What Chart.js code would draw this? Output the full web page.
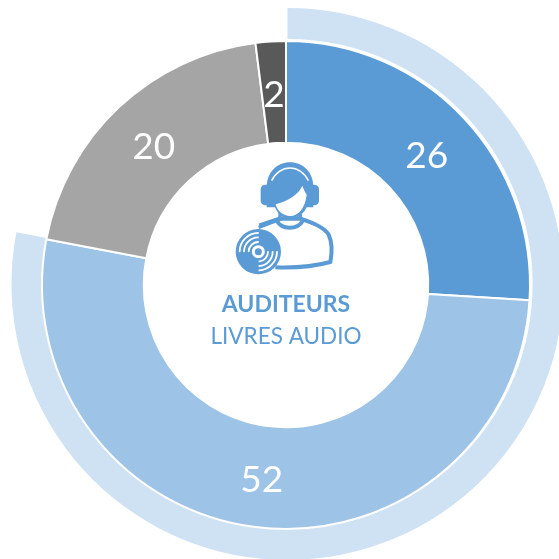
<!DOCTYPE html>
<html><head><meta charset="utf-8">
<style>
html,body{margin:0;padding:0;background:#fff;overflow:hidden;width:559px;height:559px}
.w{position:absolute}
canvas{display:block}
svg{position:absolute;left:200px;top:150px}
</style>
<script src="https://cdn.jsdelivr.net/npm/chart.js@4"></script>
</head><body>
<div class="w" style="left:0;top:0"><canvas id="outer" width="575" height="568"></canvas></div>
<div class="w" style="left:0;top:0"><canvas id="inner" width="572" height="570"></canvas></div>
<svg width="170" height="210" viewBox="0 0 510 630">
  <path d="M178 226L238 206L300 206C340 218 372 232 386 254C396 276 396 310 391 336C340 350 280 354 226 352" fill="#fff" stroke="#5B9BD5" stroke-width="12" stroke-linejoin="round"/>
  <path d="M231 213C246 240 292 240 308 213" fill="none" stroke="#5B9BD5" stroke-width="12"/>
  <path d="M240 186L240 208L176 232M300 186L302 206L345 222" fill="none" stroke="#5B9BD5" stroke-width="10"/>
  <g fill="#5B9BD5">
    <path d="M200 112C200 66 232 37 270 37C308 37 340 66 340 112L340 172L200 172Z"/>
    <rect x="182" y="104" width="34" height="62" rx="14"/>
    <rect x="323" y="104" width="34" height="62" rx="14"/>
  </g>
  <path d="M215 92C226 68 248 54 270 54C292 54 314 68 325 92" fill="none" stroke="#fff" stroke-width="4.5"/>
  <path d="M218 150C226 188 248 208 270 208C298 208 326 180 330 134L320 120L230 150Z" fill="#5B9BD5"/>
  <path d="M227 163C262 154 296 134 307 107C312 120 316 128 320 134C316 172 296 198 270 198C250 198 232 184 227 163Z" fill="#fff"/>
  <circle cx="175" cy="305" r="68" fill="#5B9BD5"/>
  <g fill="none" stroke="#fff" stroke-width="5.5" stroke-linecap="round">
    <path d="M119 304A56 56 0 0 1 174 249"/>
    <path d="M132 304A43 43 0 0 1 174 262"/>
    <path d="M146 304A29 29 0 0 1 174 276"/>
    <path d="M231 306A56 56 0 0 1 178 361"/>
    <path d="M218 306A43 43 0 0 1 178 348"/>
    <path d="M204 306A29 29 0 0 1 178 334"/>
  </g>
  <circle cx="175" cy="305" r="15" fill="#5B9BD5" stroke="#fff" stroke-width="9"/>
</svg>
<script>
const categories = ["A", "B", "C", "D"];
const innerValues = [26, 52, 20, 2];
const outerValues = [78, 22];
const innerColors = ["#5B9BD5", "#9DC3E6", "#A5A5A5", "#595959"];
const outerColors = ["#CFE2F3", "rgba(0,0,0,0)"];
const centerTitle = "AUDITEURS";
const centerSubtitle = "LIVRES AUDIO";

const labelsPlugin = {
  id: "ringLabels",
  afterDatasetsDraw(chart) {
    const ctx = chart.ctx;
    const meta = chart.getDatasetMeta(0);
    ctx.save();
    ctx.textAlign = "center";
    ctx.textBaseline = "middle";
    ctx.fillStyle = "#fff";
    ctx.font = "37px Lato";
    meta.data.forEach((arc, i) => {
      const p = arc.tooltipPosition();
      ctx.fillText(String(innerValues[i]), p.x, p.y + 3);
    });
    ctx.fillStyle = "#5B9BD5";
    const cx = (chart.chartArea.left + chart.chartArea.right) / 2;
    const cy = (chart.chartArea.top + chart.chartArea.bottom) / 2;
    ctx.font = "bold 23px Lato";
    ctx.fillText(centerTitle, cx, cy + 20);
    ctx.font = "22.5px Lato";
    ctx.fillText(centerSubtitle, cx, cy + 52);
    ctx.restore();
  }
};

new Chart(document.getElementById("outer"), {
  type: "doughnut",
  data: { labels: ["Total", ""], datasets: [{ data: outerValues, backgroundColor: outerColors, borderWidth: 0 }] },
  options: {
    responsive: false, animation: false, radius: 276, cutout: "88.8%",
    plugins: { legend: { display: false }, tooltip: { enabled: false } }
  }
});

new Chart(document.getElementById("inner"), {
  type: "doughnut",
  data: {
    labels: categories,
    datasets: [{ data: innerValues, backgroundColor: innerColors, borderColor: "#fff", borderWidth: 2 }]
  },
  options: {
    responsive: false, animation: false, radius: 244, cutout: "58.3%",
    plugins: { legend: { display: false }, tooltip: { enabled: false } }
  },
  plugins: [labelsPlugin]
});
</script>
</body></html>
